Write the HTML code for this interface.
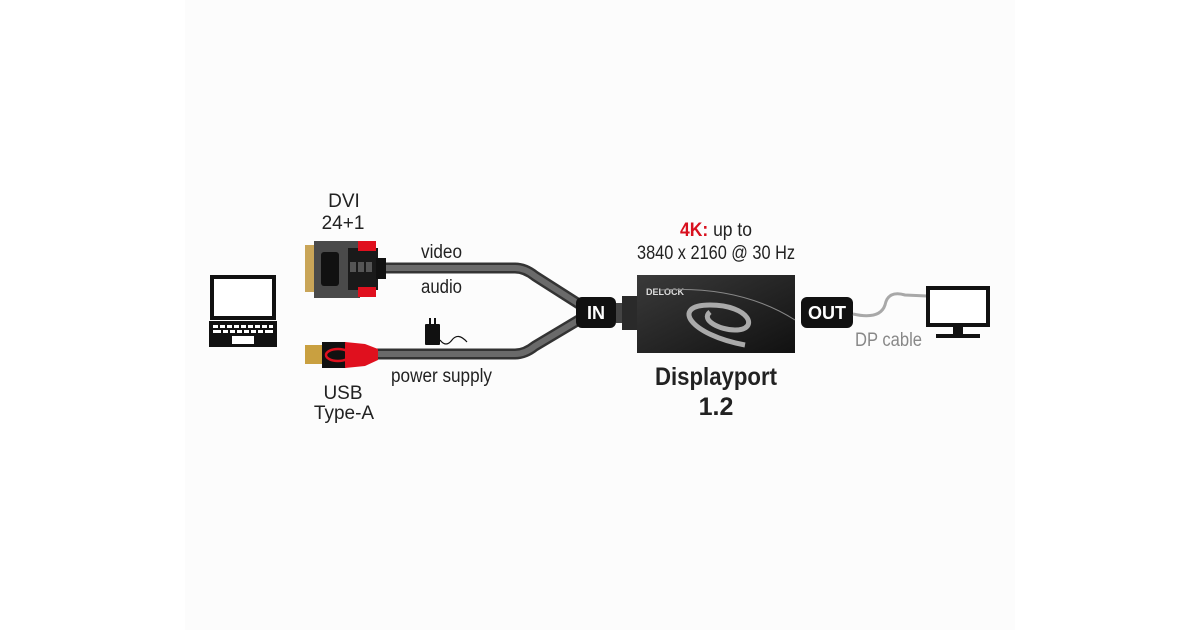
<!DOCTYPE html>
<html><head><meta charset="utf-8"><style>
html,body{margin:0;padding:0;background:#fff;}
svg{display:block}
text{font-family:"Liberation Sans Narrow","Liberation Sans",sans-serif;}
</style></head><body>
<svg width="1200" height="630" viewBox="0 0 1200 630" xmlns="http://www.w3.org/2000/svg">
<rect width="1200" height="630" fill="#fff"/>
<rect x="185" y="0" width="830" height="630" fill="#fcfcfc"/>
<!-- laptop -->
<rect x="212" y="277" width="62" height="41" fill="#fff" stroke="#111" stroke-width="4"/>
<rect x="209" y="321" width="68" height="26" fill="#111"/>
<g fill="#fff">
<rect x="213" y="325" width="5" height="3"/><rect x="220" y="325" width="5" height="3"/><rect x="227" y="325" width="5" height="3"/><rect x="234" y="325" width="5" height="3"/><rect x="241" y="325" width="5" height="3"/><rect x="248" y="325" width="5" height="3"/><rect x="255" y="325" width="5" height="3"/><rect x="262" y="325" width="5" height="3"/><rect x="269" y="325" width="4" height="3"/>
<rect x="213" y="330" width="8" height="3"/><rect x="223" y="330" width="5" height="3"/><rect x="230" y="330" width="5" height="3"/><rect x="237" y="330" width="5" height="3"/><rect x="244" y="330" width="5" height="3"/><rect x="251" y="330" width="5" height="3"/><rect x="258" y="330" width="5" height="3"/><rect x="265" y="330" width="8" height="3"/>
<rect x="232" y="336" width="22" height="8"/>
</g>
<!-- cables -->
<path d="M384 268 L515 268 Q525 268 535 276 L582 306" fill="none" stroke="#333" stroke-width="11"/>
<path d="M384 268 L515 268 Q525 268 535 276 L582 306" fill="none" stroke="#6a6a6a" stroke-width="6"/>
<path d="M376 354 L515 354 Q525 354 535 346 L582 318" fill="none" stroke="#333" stroke-width="11"/>
<path d="M376 354 L515 354 Q525 354 535 346 L582 318" fill="none" stroke="#6a6a6a" stroke-width="6"/>
<!-- DVI -->
<rect x="305" y="245" width="10" height="47" fill="#c9a558"/>
<rect x="314" y="241" width="46" height="57" fill="#4a4a4a"/>
<rect x="321" y="252" width="18" height="34" rx="3" fill="#111"/>
<rect x="348" y="248" width="30" height="42" fill="#1a1a1a"/>
<rect x="350" y="262" width="6" height="10" fill="#555"/><rect x="358" y="262" width="6" height="10" fill="#555"/><rect x="366" y="262" width="6" height="10" fill="#555"/>
<rect x="358" y="241" width="18" height="10" fill="#e0101e"/>
<rect x="358" y="287" width="18" height="10" fill="#e0101e"/>
<rect x="376" y="258" width="10" height="21" fill="#111"/>
<!-- USB -->
<rect x="305" y="345" width="17" height="19" fill="#c9a040"/>
<rect x="322" y="342" width="24" height="26" fill="#111"/>
<path d="M345 342 L365 344 L378 349 L378 360 L365 366 L345 368 Z" fill="#e0101e"/>
<ellipse cx="338" cy="355" rx="12" ry="6" fill="none" stroke="#e0101e" stroke-width="2.5"/>
<!-- power adapter -->
<rect x="425" y="324" width="15" height="21" rx="1" fill="#111"/>
<rect x="429" y="318" width="2" height="7" fill="#111"/><rect x="434" y="318" width="2" height="7" fill="#111"/>
<path d="M440 340 Q446 348 452 340 T467 342" fill="none" stroke="#111" stroke-width="1.2"/>
<!-- IN -->
<rect x="576" y="297" width="40" height="31" rx="6" fill="#111"/>
<text x="596" y="319" font-size="18" font-weight="bold" fill="#fff" text-anchor="middle">IN</text>
<!-- device -->
<rect x="616" y="303" width="8" height="20" fill="#444"/>
<rect x="622" y="296" width="18" height="34" fill="#2a2a2a"/>
<defs><linearGradient id="g" x1="0" y1="0" x2="1" y2="1"><stop offset="0" stop-color="#3a3a3a"/><stop offset="1" stop-color="#111"/></linearGradient></defs>
<rect x="637" y="275" width="158" height="78" fill="url(#g)"/>
<text x="646" y="295" font-size="9" font-weight="bold" fill="#ddd">DELOCK</text>
<path d="M660 290 Q740 285 795 320" fill="none" stroke="#888" stroke-width="1"/>
<path d="M745 345 C690 335 670 305 710 305 C750 305 760 330 735 330 C720 330 700 320 710 312" fill="none" stroke="#aaa" stroke-width="5"/>
<!-- OUT -->
<rect x="801" y="297" width="52" height="31" rx="6" fill="#111"/>
<text x="827" y="319" font-size="18" font-weight="bold" fill="#fff" text-anchor="middle">OUT</text>
<path d="M853 314 Q880 320 885 305 Q888 290 905 295 L927 296" fill="none" stroke="#a8a8a8" stroke-width="3"/>
<!-- monitor -->
<rect x="928" y="288" width="60" height="37" fill="#fff" stroke="#111" stroke-width="4"/>
<rect x="953" y="327" width="10" height="7" fill="#111"/>
<rect x="936" y="334" width="44" height="4" fill="#111"/>
<!-- texts -->
<g font-size="19" fill="#222">
<text x="344" y="207" text-anchor="middle">DVI</text>
<text x="343" y="229" text-anchor="middle">24+1</text>
<text x="421" y="258" textLength="41" lengthAdjust="spacingAndGlyphs">video</text>
<text x="421" y="293" textLength="41" lengthAdjust="spacingAndGlyphs">audio</text>
<text x="391" y="382" textLength="101" lengthAdjust="spacingAndGlyphs">power supply</text>
<text x="343" y="399" text-anchor="middle">USB</text>
<text x="344" y="419" text-anchor="middle">Type-A</text>
<text x="680" y="236" textLength="72" lengthAdjust="spacingAndGlyphs"><tspan fill="#d8101e" font-weight="bold">4K:</tspan> up to</text>
<text x="637" y="259" textLength="158" lengthAdjust="spacingAndGlyphs">3840 x 2160 @ 30 Hz</text>
<text x="855" y="346" fill="#888" textLength="67" lengthAdjust="spacingAndGlyphs">DP cable</text>
</g>
<text x="655" y="385" font-size="25" font-weight="bold" fill="#222" textLength="122" lengthAdjust="spacingAndGlyphs">Displayport</text>
<text x="716" y="415" font-size="25" font-weight="bold" fill="#222" text-anchor="middle">1.2</text>
</svg>
</body></html>
